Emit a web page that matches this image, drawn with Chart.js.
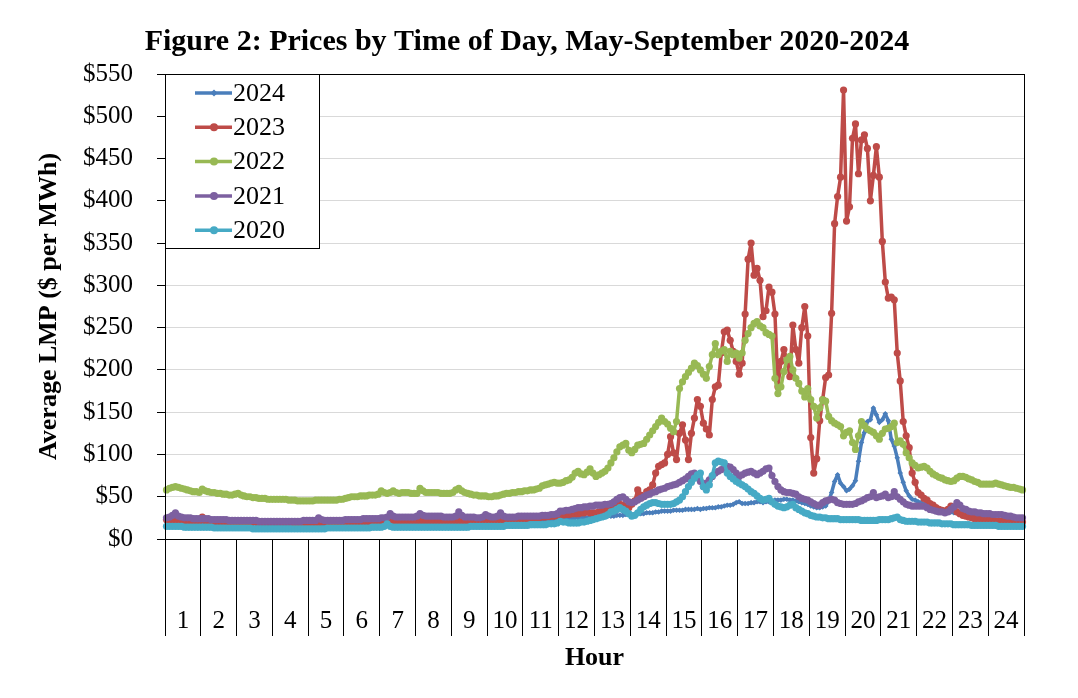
<!DOCTYPE html>
<html>
<head>
<meta charset="utf-8">
<script src="https://cdn.jsdelivr.net/npm/chart.js@4.4.1/dist/chart.umd.min.js"></script>
<style>
  html, body { margin: 0; padding: 0; background: #fff; }
  #wrap { width: 1078px; height: 698px; }
</style>
</head>
<body>
<div id="wrap"><canvas id="lmp-chart" width="1078" height="698"></canvas></div>
<script>
// hour categories, 12 five-minute intervals in each
const hourLabels = ['1','2','3','4','5','6','7','8','9','10','11','12',
  '13','14','15','16','17','18','19','20','21','22','23','24'];
const minuteLabels = ['00','05','10','15','20','25','30','35','40','45','50','55'];
const yTickValues = [0, 50, 100, 150, 200, 250, 300, 350, 400, 450, 500, 550];

// average LMP, $/MWh, one row per hour
const series2024 = [
  20,20,20,20,19,19,19,19,19,19,19,19,
  19,19,19,18,18,18,18,18,18,18,18,18,
  18,18,18,18,18,18,18,17,17,17,17,17,
  17,17,17,17,17,17,17,17,17,17,17,17,
  17,17,17,17,17,17,17,17,17,17,18,18,
  18,18,18,18,18,18,18,18,18,18,18,18,
  18,18,19,19,19,19,19,19,19,19,19,19,
  19,19,19,19,19,19,19,19,19,19,19,19,
  19,19,19,19,19,19,20,20,20,20,20,20,
  20,20,20,20,20,20,21,21,21,21,21,21,
  21,21,22,22,22,22,22,23,23,23,23,23,
  23,24,24,24,24,25,25,25,25,25,25,25,
  25,25,26,26,27,27,27,28,28,28,29,29,
  29,29,30,30,30,31,31,31,32,32,33,33,
  33,33,34,34,34,34,35,35,35,35,36,35,
  36,36,37,37,37,38,38,39,40,40,41,43,
  44,42,42,42,43,43,44,44,43,44,44,45,
  46,46,46,47,47,46,46,45,44,43,42,41,
  39,38,37,37,38,39,45,55,68,76,66,62,
  57,59,63,69,92,114,126,139,141,155,147,138,
  141,148,140,118,110,96,78,67,57,51,47,46,
  44,43,41,40,38,37,36,35,34,33,33,32,
  31,31,30,30,29,28,28,27,27,26,25,25,
  24,24,23,23,22,22,22,21,21,21,21,20
];
const series2023 = [
  23,23,23,22,22,22,22,22,21,21,21,21,
  26,22,21,21,21,21,21,21,20,20,20,20,
  20,20,20,20,20,20,20,20,20,20,20,20,
  20,20,20,20,20,20,20,19,19,19,19,19,
  19,19,19,19,20,20,20,20,20,20,20,20,
  20,20,20,20,20,21,21,21,21,21,21,21,
  21,21,21,21,22,22,22,22,22,22,22,22,
  22,22,22,22,22,22,22,22,22,22,22,22,
  22,22,22,22,22,22,22,22,22,22,22,22,
  22,22,23,23,23,23,23,23,24,24,24,24,
  24,24,25,25,25,25,26,26,26,27,27,27,
  28,28,29,29,30,30,30,31,31,32,31,31,
  31,32,33,35,37,38,39,40,41,40,38,37,
  41,45,58,52,50,56,58,64,78,86,88,90,
  100,121,102,94,125,135,117,94,125,143,165,157,
  137,130,123,165,180,182,220,245,247,235,222,210,
  195,208,266,331,350,312,320,306,263,270,298,292,
  266,180,210,224,212,192,253,224,208,250,275,240,
  120,78,95,140,165,191,194,267,373,405,428,531,
  376,393,474,491,432,472,478,462,400,430,464,428,
  352,304,285,286,283,220,187,139,122,108,78,67,
  55,52,48,46,42,40,37,35,34,33,35,39,
  36,32,30,28,27,26,25,24,24,23,23,22,
  22,22,21,21,21,21,20,20,20,20,20,20
];
const series2022 = [
  58,60,61,62,61,60,59,58,57,56,56,55,
  59,57,56,55,55,54,54,53,53,52,52,53,
  54,52,51,50,50,49,49,48,48,48,47,47,
  47,47,47,47,47,46,46,46,45,45,45,45,
  45,45,46,46,46,46,46,46,46,46,47,47,
  48,49,50,50,50,51,51,51,52,52,52,53,
  57,55,54,55,57,55,54,55,55,55,54,54,
  54,60,57,55,55,55,55,55,54,54,54,54,
  55,58,60,57,55,54,53,52,52,51,51,51,
  50,50,51,51,52,53,54,54,55,55,56,56,
  57,57,58,58,59,60,63,64,65,66,67,66,
  66,67,69,70,73,78,80,77,76,79,83,78,
  74,76,78,80,84,90,96,103,109,111,113,105,
  102,106,111,112,113,118,123,128,133,138,143,139,
  136,131,127,139,178,186,192,197,202,208,205,200,
  195,190,204,218,231,218,222,224,210,222,218,220,
  214,220,235,243,250,255,257,252,250,244,242,240,
  190,172,180,198,212,216,200,190,184,175,168,178,
  165,157,143,155,165,163,145,140,137,135,133,122,
  126,128,114,106,122,139,134,130,128,126,122,118,
  125,130,131,133,137,114,116,112,102,96,90,87,
  84,85,86,84,80,77,75,73,72,70,69,68,
  69,72,74,74,73,71,70,68,67,65,65,65,
  65,65,66,65,64,63,62,61,61,60,59,58
];
const series2021 = [
  25,26,28,31,27,26,25,25,25,24,24,24,
  24,24,24,23,23,23,23,23,23,22,22,22,
  22,22,22,22,22,22,22,21,21,21,21,21,
  21,21,21,21,21,21,21,21,21,21,22,22,
  22,22,22,25,23,22,22,22,22,22,22,22,
  23,23,23,23,23,23,24,24,24,24,24,24,
  25,25,26,30,27,26,26,26,26,26,26,26,
  27,30,28,27,27,27,27,27,27,26,26,26,
  26,27,32,28,26,26,26,26,25,25,26,29,
  27,26,26,27,31,27,26,26,26,26,27,27,
  27,27,27,27,27,27,28,28,28,29,29,30,
  33,33,34,34,35,36,37,37,38,38,39,39,
  40,40,40,41,41,42,44,47,49,50,47,44,
  43,44,46,48,50,52,53,55,56,58,59,60,
  62,63,64,65,67,69,71,74,77,78,73,68,
  62,66,70,74,78,80,82,84,86,85,82,78,
  74,76,78,79,80,78,76,78,80,83,84,75,
  68,62,58,56,55,55,54,53,50,48,47,46,
  44,42,40,40,43,45,46,47,46,43,42,41,
  41,41,41,42,44,45,47,49,50,55,49,50,
  51,53,49,50,56,50,47,44,41,40,39,39,
  39,39,39,37,35,34,33,32,32,31,32,35,
  38,43,40,36,35,33,32,32,31,31,30,30,
  30,29,29,29,29,28,27,27,26,25,25,25
];
const series2020 = [
  15,15,15,15,15,15,14,14,14,14,14,14,
  14,14,14,14,13,13,13,13,13,13,13,13,
  13,13,13,13,13,12,12,12,12,12,12,12,
  12,12,12,12,12,12,12,12,12,12,12,12,
  12,12,12,12,12,12,13,13,13,13,13,13,
  13,13,13,13,13,13,13,13,13,14,14,14,
  14,15,18,15,14,14,14,14,14,14,14,14,
  14,14,14,14,14,14,14,14,14,14,14,14,
  14,14,14,14,14,14,15,15,15,15,15,15,
  15,15,15,15,15,15,16,16,16,16,16,16,
  16,16,17,17,17,17,17,17,18,18,18,19,
  21,20,20,19,19,19,19,20,20,21,22,23,
  24,25,26,27,29,32,33,35,37,35,33,30,
  27,28,31,35,38,40,42,43,43,42,41,41,
  41,41,42,44,46,50,56,62,67,72,76,78,
  62,58,64,75,90,92,91,90,78,74,71,68,
  66,64,62,59,56,54,51,48,46,47,48,44,
  41,39,38,37,38,40,41,37,35,33,31,30,
  28,27,26,26,25,25,24,24,24,24,23,23,
  23,23,23,23,23,22,22,22,22,22,22,23,
  23,23,23,24,25,26,23,22,21,21,21,21,
  20,20,20,20,19,19,19,19,18,18,18,18,
  17,17,17,17,17,17,16,16,16,16,16,16,
  16,16,16,15,15,15,15,15,15,15,15,15
];

const seriesNames = ['2024', '2023', '2022', '2021', '2020'];
const seriesValues = [series2024, series2023, series2022, series2021, series2020];
const seriesColors = ['#4A7EBB', '#BE4B48', '#98B954', '#7D60A0', '#46AAC5'];

const slotLabels = [];
hourLabels.forEach(h => minuteLabels.forEach(m => slotLabels.push(h + ':' + m)));

const serif = "'Liberation Serif', 'Times New Roman', serif";
Chart.defaults.font.family = serif;
Chart.defaults.color = '#000';

// black frame round the plot area
const plotFrame = {
  id: 'plotFrame',
  afterDatasetsDraw(chart) {
    const { ctx, chartArea: a } = chart;
    ctx.save();
    ctx.strokeStyle = '#000';
    ctx.lineWidth = 1;
    ctx.strokeRect(Math.round(a.left) + 0.5, Math.round(a.top) + 0.5,
      Math.round(a.right - a.left), Math.round(a.bottom - a.top));
    ctx.restore();
  }
};

// boxed legend in the top left corner of the plot
const boxLegend = {
  id: 'boxLegend',
  afterDraw(chart) {
    const { ctx, chartArea: a } = chart;
    const x0 = Math.round(a.left), y0 = Math.round(a.top);
    ctx.save();
    ctx.fillStyle = '#fff';
    ctx.fillRect(x0, y0, 154, 174);
    ctx.strokeStyle = '#000';
    ctx.lineWidth = 1;
    ctx.strokeRect(x0 + 0.5, y0 + 0.5, 154, 174);
    chart.data.datasets.forEach((ds, i) => {
      const y = y0 + 19 + i * 34.3;
      ctx.strokeStyle = ds.borderColor;
      ctx.lineWidth = 3.5;
      ctx.beginPath();
      ctx.moveTo(x0 + 30, y);
      ctx.lineTo(x0 + 67, y);
      ctx.stroke();
      ctx.fillStyle = ds.borderColor;
      ctx.beginPath();
      if (ds.pointStyle === 'rectRot') {
        ctx.moveTo(x0 + 49, y - 3.5); ctx.lineTo(x0 + 52.5, y);
        ctx.lineTo(x0 + 49, y + 3.5); ctx.lineTo(x0 + 45.5, y);
        ctx.closePath();
      } else {
        ctx.arc(x0 + 49, y, 4, 0, Math.PI * 2);
      }
      ctx.fill();
      ctx.fillStyle = '#000';
      ctx.font = '26px ' + serif;
      ctx.textAlign = 'left';
      ctx.textBaseline = 'middle';
      ctx.fillText(ds.label, x0 + 68, y + 1);
    });
    ctx.restore();
  }
};

const datasets = seriesNames.map((name, i) => ({
  label: name,
  data: seriesValues[i],
  xAxisID: 'x',
  yAxisID: 'y',
  borderColor: seriesColors[i],
  backgroundColor: seriesColors[i],
  borderWidth: 3.5,
  borderJoinStyle: 'round',
  pointStyle: i === 0 ? 'rectRot' : 'circle',
  pointRadius: i === 0 ? 2.8 : 3.6,
  pointBorderWidth: 0,
  pointHoverRadius: 3.6,
  fill: false,
  tension: 0,
  order: seriesNames.length - 1 - i   // 2020 drawn on top, 2024 underneath
}));

new Chart(document.getElementById('lmp-chart'), {
  type: 'line',
  data: { labels: slotLabels, datasets },
  options: {
    responsive: false,
    animation: false,
    devicePixelRatio: 1,
    layout: { padding: { left: 30, right: 54, top: 0, bottom: 20 } },
    plugins: {
      legend: { display: false },
      tooltip: { enabled: false },
      title: {
        display: true,
        text: 'Figure 2: Prices by Time of Day, May-September 2020-2024',
        font: { size: 30, weight: 'bold' },
        color: '#000',
        padding: { top: 24, bottom: 14 }
      }
    },
    scales: {
      x: {
        type: 'category',
        labels: slotLabels,
        offset: true,
        display: false
      },
      hours: {
        type: 'category',
        position: 'bottom',
        labels: hourLabels,
        offset: true,
        grid: { offset: true, drawOnChartArea: false, tickLength: 97, color: '#000', tickColor: '#000' },
        border: { color: '#000' },
        ticks: { font: { size: 25 }, padding: -30, maxRotation: 0, autoSkip: false, color: '#000' },
        title: { display: true, text: 'Hour', font: { size: 26, weight: 'bold' }, padding: { top: 0, bottom: 4 } },
        afterFit(scale) { scale.height = 139; }
      },
      y: {
        min: 0,
        max: 550,
        afterBuildTicks(scale) { scale.ticks = yTickValues.map(v => ({ value: v })); },
        ticks: { callback: v => '$' + v, font: { size: 25 }, padding: 24, color: '#000' },
        grid: {
          color: c => (c.tick && c.tick.value === 0) ? 'rgba(0,0,0,0)' : '#D9D9D9',
          tickColor: '#000',
          tickLength: 8
        },
        border: { color: '#000' },
        title: { display: true, text: 'Average LMP ($ per MWh)', font: { size: 26, weight: 'bold' }, padding: { top: 4, bottom: 0 } },
        afterFit(scale) { scale.width = 135; }
      }
    }
  },
  plugins: [plotFrame, boxLegend]
});
</script>
</body>
</html>
